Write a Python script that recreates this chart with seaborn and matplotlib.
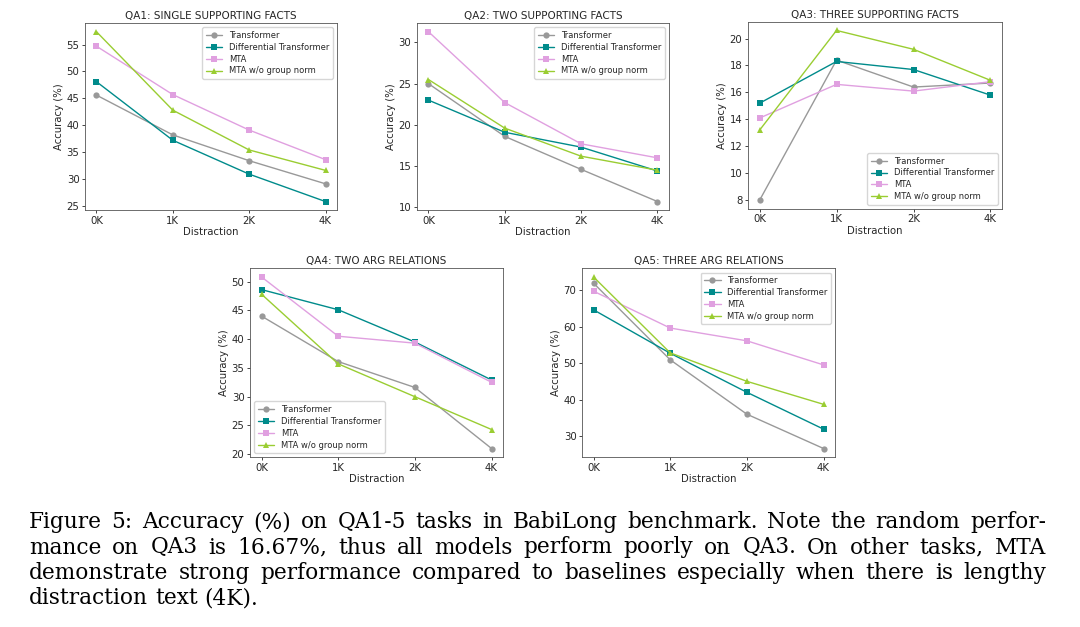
import numpy as np
import pandas as pd
import matplotlib
matplotlib.use("Agg")
import matplotlib.pyplot as plt
import seaborn as sns

sns.set_style("ticks")
plt.rcParams['font.family'] = ['DejaVu Sans']

# distraction lengths (categorical x axis)
distraction = ["0K", "1K", "2K", "4K"]
models = ["Transformer", "Differential Transformer", "MTA", "MTA w/o group norm"]

# accuracy (%) per task, one list per model (same order as models)
qa1 = [[45.6, 38.2, 33.4, 29.1],
       [48.1, 37.2, 30.9, 25.8],
       [54.7, 45.7, 39.1, 33.6],
       [57.4, 42.8, 35.4, 31.6]]
qa2 = [[25.0, 18.6, 14.6, 10.7],
       [23.0, 19.1, 17.3, 14.4],
       [31.3, 22.7, 17.7, 16.0],
       [25.5, 19.6, 16.2, 14.5]]
qa3 = [[8.0, 18.4, 16.4, 16.7],
       [15.2, 18.3, 17.7, 15.8],
       [14.1, 16.6, 16.1, 16.8],
       [13.2, 20.6, 19.2, 16.9]]
qa4 = [[44.0, 36.1, 31.6, 21.0],
       [48.6, 45.1, 39.5, 32.9],
       [50.8, 40.5, 39.3, 32.5],
       [47.8, 35.7, 30.0, 24.3]]
qa5 = [[72.0, 51.0, 36.1, 26.7],
       [64.7, 52.8, 42.1, 32.0],
       [69.8, 59.7, 56.2, 49.6],
       [73.7, 52.9, 45.1, 38.8]]

titles = ["QA1: SINGLE SUPPORTING FACTS", "QA2: TWO SUPPORTING FACTS",
          "QA3: THREE SUPPORTING FACTS", "QA4: TWO ARG RELATIONS",
          "QA5: THREE ARG RELATIONS"]
legend_locs = ["upper right", "upper right", "lower right", "lower left", "upper right"]

caption_lines = [
    "Figure 5: Accuracy (%) on QA1-5 tasks in BabiLong benchmark. Note the random perfor-",
    "mance on QA3 is 16.67%, thus all models perform poorly on QA3. On other tasks, MTA",
    "demonstrate strong performance compared to baselines especially when there is lengthy",
    "distraction text (4K).",
]

palette = {"Transformer": "#999999", "Differential Transformer": "#008b8b",
           "MTA": "#e0a0e0", "MTA w/o group norm": "#9acd32"}
markers = {"Transformer": "o", "Differential Transformer": "s",
           "MTA": "s", "MTA w/o group norm": "^"}


def to_frame(values):
    rows = []
    for m, vals in zip(models, values):
        for d, v in zip(distraction, vals):
            rows.append({"Distraction": d, "Accuracy": v, "Model": m})
    return pd.DataFrame(rows)


def justified_caption(fig, lines, x0, x1, y_top, step, size):
    # place each word so that all but the last line fill x0..x1 (pixels)
    renderer = fig.canvas.get_renderer()
    W, H = fig.bbox.width, fig.bbox.height
    kw = dict(fontsize=size, family="DejaVu Serif", color="black")
    probe = fig.text(0, 0, "a a", **kw)
    probe1 = fig.text(0, 0, "a", **kw)
    sp = probe.get_window_extent(renderer).width - 2 * probe1.get_window_extent(renderer).width
    probe.remove()
    probe1.remove()
    for i, line in enumerate(lines):
        words = line.split(" ")
        arts = [fig.text(0, 0, w, va="baseline", ha="left", **kw) for w in words]
        widths = [a.get_window_extent(renderer).width for a in arts]
        if i < len(lines) - 1 and len(words) > 1:
            gap = (x1 - x0 - sum(widths)) / (len(words) - 1)
        else:
            gap = sp
        x = x0
        y = y_top + i * step
        for a, w in zip(arts, widths):
            a.set_position((x / W, 1 - y / H))
            x += w + gap


fig = plt.figure(figsize=(10.8, 6.27), dpi=100)

# axes boxes [left, bottom, width, height] in figure fractions
boxes = [[0.0787, 0.665, 0.2333, 0.298],
         [0.3861, 0.665, 0.2333, 0.298],
         [0.6926, 0.667, 0.2352, 0.298],
         [0.2315, 0.271, 0.2343, 0.301],
         [0.5389, 0.271, 0.2343, 0.301]]

for data, title, loc, box in zip([qa1, qa2, qa3, qa4, qa5], titles, legend_locs, boxes):
    ax = fig.add_axes(box)
    df = to_frame(data)
    sns.lineplot(data=df, x="Distraction", y="Accuracy", hue="Model", style="Model",
                 palette=palette, markers=markers, dashes=False, markersize=4.5,
                 markeredgewidth=0, linewidth=1.0, sort=False, ax=ax)
    ax.set_title(title, fontsize=7.5, pad=3)
    ax.set_xlabel("Distraction", fontsize=7.3, labelpad=1)
    ax.set_ylabel("Accuracy (%)", fontsize=7.3, labelpad=2)
    ax.tick_params(labelsize=7.3, length=2.5, width=0.6, pad=1.5)
    for sp in ax.spines.values():
        sp.set_linewidth(0.6)
        sp.set_color("#555555")
    ax.legend(loc=loc, fontsize=6.0, frameon=True, borderpad=0.4,
              handlelength=2.0, labelspacing=0.35, fancybox=True, edgecolor="#cccccc")

justified_caption(fig, caption_lines, 29, 1046, 528, 25.5, 15.6)

fig.savefig("out.png", dpi=100)
